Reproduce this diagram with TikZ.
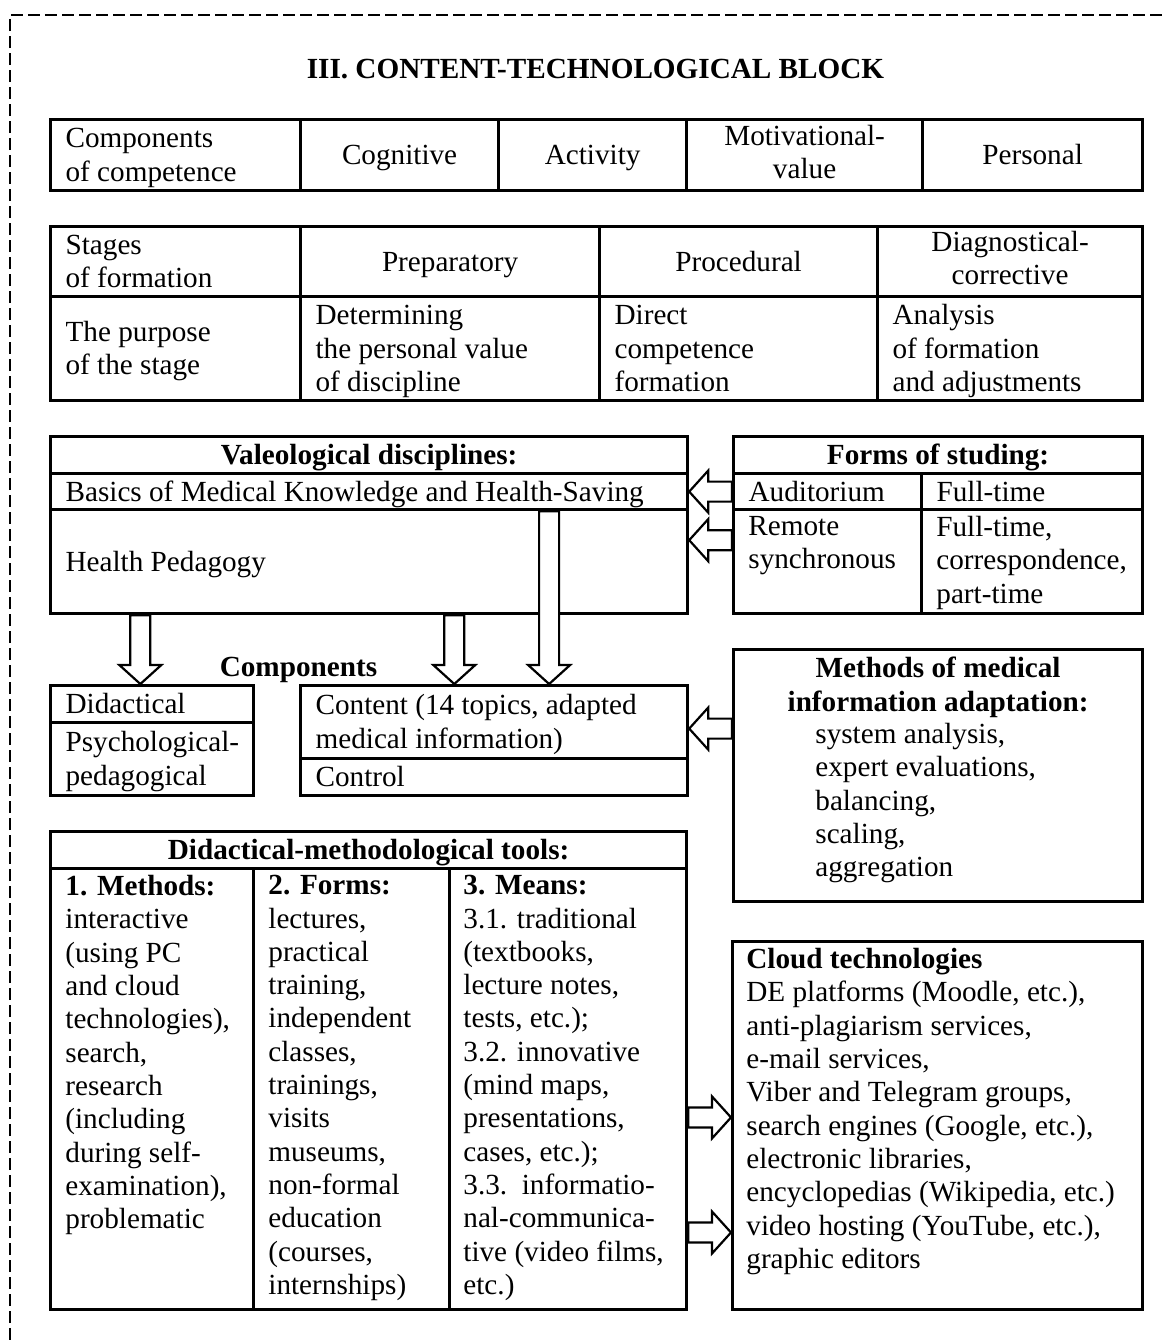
\documentclass[tikz,border=0pt]{standalone}
\usepackage{fontspec}
\setmainfont{Liberation Serif}
\usetikzlibrary{calc,positioning}
\newcommand{\cellstrut}{\rule[-3.5pt]{0pt}{16.5pt}}
\tikzset{
  every node/.style={
    font=\fontsize{14.6pt}{16.65pt}\selectfont
  },
  headtext/.style={
    font=\fontsize{14.6pt}{16.65pt}\selectfont\bfseries
  },
  cell/.style 2 args={
    shape=rectangle,
    draw,
    line width=1.6pt,
    inner sep=0pt,
    anchor=north west,
    minimum width=#1,
    minimum height=#2,
    align=center,
    execute at begin node=\cellstrut,
    execute at end node=\cellstrut
  },
  lefttext/.style={
    align=flush left,
    text width=#1
  },
  listtext/.style={
    inner sep=0pt,
    align=left,
    anchor=north west
  },
  hollowarrow/.style={
    draw,
    fill=white,
    line width=1.1pt,
    line join=miter
  },
  dashframe/.style={
    line width=1pt,
    dash pattern=on 6pt off 2.5pt
  }
}
% hollow block arrow from #1 to #2
\newcommand{\blockarrow}[2]{%
  \coordinate (bh) at ($#2!9.5pt!#1$);
  \draw[hollowarrow] ($#1!5pt!90:#2$) -- ($(bh)!5pt!90:#2$) -- ($(bh)!10.5pt!90:#2$) -- #2
    -- ($(bh)!10.5pt!-90:#2$) -- ($(bh)!5pt!-90:#2$) -- ($#1!5pt!-90:#2$) -- cycle;
}

\begin{document}
\begin{tikzpicture}[x=0.5pt,y=-0.5pt]
  \useasboundingbox (0,0) rectangle (1167,1340);
  \draw[dashframe] (10,1340) |- (1167,15);
  \node[headtext, anchor=base] (title) at (595.5,78) {III. CONTENT-TECHNOLOGICAL BLOCK};

  % components of competence
  \node[cell={125pt}{35.5pt}, lefttext=110pt] (comp) at (49,118) {Components\\of competence};
  \node[cell={99pt}{35.5pt}] (cog) at (299,118) {Cognitive};
  \node[cell={94pt}{35.5pt}] (act) at (497,118) {Activity};
  \node[cell={118pt}{35.5pt}] (mot) at (685,118) {Motivational-\\value};
  \node[cell={110pt}{35.5pt}] (pers) at (921,118) {Personal};

  % stages of formation
  \node[cell={125pt}{35pt}, lefttext=110pt] (stg) at (49,225) {Stages\\of formation};
  \node[cell={149.5pt}{35pt}] (prep) at (299,225) {Preparatory};
  \node[cell={139pt}{35pt}] (proc) at (598,225) {Procedural};
  \node[cell={132.5pt}{35pt}] (diag) at (876,225) {Diagnostical-\\corrective};
  \node[cell={125pt}{52pt}, lefttext=110pt] (purp) at (49,295) {The purpose\\of the stage};
  \node[cell={149.5pt}{52pt}, lefttext=134.5pt] (det) at (299,295) {Determining\\the personal value\\of discipline};
  \node[cell={139pt}{52pt}, lefttext=124pt] (dir) at (598,295) {Direct\\competence\\formation};
  \node[cell={132.5pt}{52pt}, lefttext=117.5pt] (anl) at (876,295) {Analysis\\of formation\\and adjustments};

  % valeological disciplines
  \node[cell={318.5pt}{18.5pt}, headtext] (vhead) at (49,435) {Valeological disciplines:};
  \node[cell={318.5pt}{18pt}, lefttext=303.5pt] (basics) at (49,472) {Basics of Medical Knowledge and Health-Saving};
  \node[cell={318.5pt}{52pt}, lefttext=303.5pt] (hp) at (49,508) {Health Pedagogy};

  % forms of studing
  \node[cell={204.5pt}{18.5pt}, headtext] (fhead) at (732,435) {Forms of studing:};
  \node[cell={94pt}{18pt}, lefttext=79pt] (aud) at (732,472) {Auditorium};
  \node[cell={110.5pt}{18pt}, lefttext=95.5pt] (ft1) at (920,472) {Full-time};
  \node[cell={94pt}{52pt}] (remote) at (732,508) {};
  \node[cell={110.5pt}{52pt}] (ft2) at (920,508) {};
  \node[listtext] (remotetxt) at ([shift={(16,8)}]remote.north west) {Remote\\synchronous};
  \node[listtext] (ft2txt) at ([shift={(16,8)}]ft2.north west) {Full-time,\\correspondence,\\part-time};

  % components
  \node[headtext, anchor=base] (complbl) at (298.5,676) {Components};
  \node[cell={101.5pt}{18.5pt}, lefttext=86.5pt] (did1) at (49,684) {Didactical};
  \node[cell={101.5pt}{36.5pt}, lefttext=86.5pt] (did2) at (49,721) {\mbox{Psychological-}\\pedagogical};
  \node[cell={193.5pt}{36.5pt}, lefttext=178.5pt] (cont) at (299,684) {Content (14 topics, adapted\\medical information)};
  \node[cell={193.5pt}{18.5pt}, lefttext=178.5pt] (ctrl) at (299,757) {Control};

  % methods of adaptation
  \node[cell={204.5pt}{126pt}] (meth) at (732,648) {};
  \node[headtext, inner sep=0pt, align=center, anchor=north] (methhead) at ([shift={(0,9)}]meth.north) {Methods of medical\\information adaptation:};
  \node[listtext] (methlist) at ([shift={(83,75)}]meth.north west) {system analysis,\\expert evaluations,\\balancing,\\scaling,\\aggregation};

  % didactical-methodological tools
  \node[cell={318pt}{18.5pt}, headtext] (dthead) at (49,830) {Didactical-methodological tools:};
  \node[cell={101.5pt}{220.5pt}] (dtm) at (49,867) {};
  \node[cell={98pt}{220.5pt}] (dtf) at (252,867) {};
  \node[cell={118.5pt}{220.5pt}] (dtn) at (448,867) {};
  \node[listtext] (dtmtxt) at ([shift={(16,8)}]dtm.north west) {\textbf{1. Methods:}\\interactive\\(using PC\\and cloud\\technologies),\\search,\\research\\(including\\during self-\\examination),\\problematic};
  \node[listtext] (dtftxt) at ([shift={(16,8)}]dtf.north west) {\textbf{2. Forms:}\\lectures,\\practical\\training,\\independent\\classes,\\trainings,\\visits\\museums,\\non-formal\\education\\(courses,\\internships)};
  \node[listtext] (dtntxt) at ([shift={(15,8)}]dtn.north west) {\textbf{3. Means:}\\3.1. traditional\\(textbooks,\\lecture notes,\\tests, etc.);\\3.2. innovative\\(mind maps,\\presentations,\\cases, etc.);\\3.3.\ \ informatio-\\nal-communica-\\tive (video films,\\etc.)};

  % cloud technologies
  \node[cell={205pt}{184pt}] (cloud) at (731,940) {};
  \node[listtext] (cloudtxt) at ([shift={(15,8)}]cloud.north west) {\textbf{Cloud technologies}\\DE platforms (Moodle, etc.),\\anti-plagiarism services,\\e-mail services,\\Viber and Telegram groups,\\search engines (Google, etc.),\\electronic libraries,\\encyclopedias (Wikipedia, etc.)\\video hosting (YouTube, etc.),\\graphic editors};

  % arrows
  \coordinate (rm) at ($(remote.north west)!.3!(remote.south west)$);
  \coordinate (rmt) at (rm -| hp.east);
  \coordinate (mt) at ([yshift=-3.25pt]cont.east);
  \coordinate (mtb) at (mt -| meth.west);
  \coordinate (d1) at ($(did1.north west)!.443!(did1.north east)$);
  \coordinate (d1b) at (d1 |- hp.south);
  \coordinate (c1) at ($(cont.north west)!.398!(cont.north east)$);
  \coordinate (c1b) at (c1 |- hp.south);
  \coordinate (c2) at ($(cont.north west)!.641!(cont.north east)$);
  \coordinate (c2b) at (c2 |- basics.south);
  \coordinate (k1) at ($(cloud.north west)!.478!(cloud.south west)$);
  \coordinate (k1b) at (k1 -| dtn.east);
  \coordinate (k2) at ($(cloud.north west)!.788!(cloud.south west)$);
  \coordinate (k2b) at (k2 -| dtn.east);

  \blockarrow{(aud.west)}{(basics.east)}
  \blockarrow{(rm)}{(rmt)}
  \blockarrow{(mtb)}{(mt)}
  \blockarrow{(d1b)}{(d1)}
  \blockarrow{(c1b)}{(c1)}
  \blockarrow{(c2b)}{(c2)}
  \blockarrow{(k1b)}{(k1)}
  \blockarrow{(k2b)}{(k2)}
\end{tikzpicture}
\end{document}
